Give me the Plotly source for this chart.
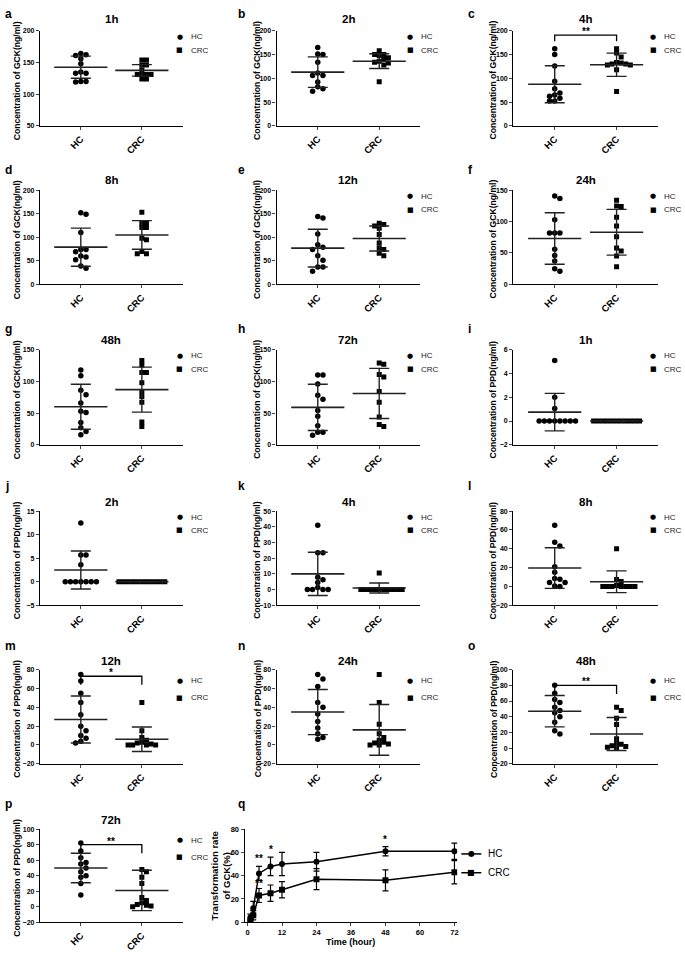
import numpy as np
import plotly.graph_objects as go

W, H = 685, 955
FONT = "Arial, Liberation Sans, sans-serif"

# ---------------- data ----------------
groups = ["HC", "CRC"]

# GCK concentration (ng/ml)
gck_1h_hc = [162, 161, 164, 156, 148, 133, 133, 135, 120, 119, 120]
gck_1h_crc = [154, 154, 146, 146, 138, 131, 131, 131, 131, 124, 124]
gck_2h_hc = [165, 150, 151, 134, 111, 106, 106, 92, 82, 73, 78]
gck_2h_crc = [158, 150, 150, 148, 143, 140, 136, 134, 132, 128, 93]
gck_4h_hc = [162, 150, 126, 94, 78, 69, 65, 62, 58, 52, 52]
gck_4h_crc = [162, 153, 145, 133, 132, 130, 130, 128, 128, 118, 72]
gck_8h_hc = [149, 152, 110, 74, 74, 69, 58, 60, 52, 39, 34]
gck_8h_crc = [153, 130, 130, 121, 121, 98, 95, 70, 65, 65]
gck_12h_hc = [141, 144, 107, 84, 74, 79, 61, 51, 37, 37, 28]
gck_12h_crc = [130, 124, 119, 127, 106, 77, 88, 74, 61, 66]
gck_24h_hc = [137, 141, 103, 82, 82, 82, 56, 46, 37, 21, 25]
gck_24h_crc = [134, 124, 125, 107, 93, 76, 58, 53, 45, 28]
gck_48h_hc = [118, 109, 86, 79, 66, 51, 53, 35, 27, 21, 16]
gck_48h_crc = [133, 126, 114, 114, 98, 76, 84, 67, 36, 29]
gck_72h_hc = [110, 110, 96, 78, 72, 54, 45, 30, 20, 20, 15]
gck_72h_crc = [129, 127, 107, 111, 84, 67, 44, 32, 29]

# PPD concentration (ng/ml)
ppd_1h_hc = [5.1, 2.0, 1.05, 0, 0, 0, 0, 0, 0, 0, 0]
ppd_1h_crc = [0] * 11
ppd_2h_hc = [12.5, 5.7, 5.7, 3.6, 0, 0, 0, 0, 0, 0, 0]
ppd_2h_crc = [0] * 11
ppd_4h_hc = [41, 23.5, 23.5, 7.8, 6.2, 4.6, 1.3, 0, 0, 0, 0]
ppd_4h_crc = [10.5, 0, 0, 0, 0, 0, 0, 0, 0, 0, 0]
ppd_8h_hc = [65, 47, 43, 21, 15, 8.4, 7.7, 4.2, 4.2, 0, 0.5]
ppd_8h_crc = [40, 7.5, 5.3, 1, 0, 0, 0, 0, 0, 0, 0]
ppd_12h_hc = [75, 68, 55, 45, 32, 20, 15, 10, 7, 4, 2]
ppd_12h_crc = [45, 15, 8, 5, 3, 2, 1, 0, 0, 0, 0]
ppd_24h_hc = [75, 70, 62, 45, 40, 33, 25, 18, 12, 8, 6]
ppd_24h_crc = [75, 45, 22, 12, 8, 5, 3, 2, 1, 0, 0]
ppd_48h_hc = [80, 70, 62, 58, 52, 48, 45, 40, 33, 22, 18]
ppd_48h_crc = [52, 48, 38, 30, 12, 6, 5, 3, 2, 1, 0]
ppd_72h_hc = [82, 72, 63, 57, 55, 50, 45, 40, 38, 30, 15]
ppd_72h_crc = [48, 45, 38, 30, 12, 8, 5, 3, 2, 1, 0]

# mean and SD lines as drawn in each panel, [HC, CRC]
means = {
    "a": [142.5, 137.5], "b": [113, 136], "c": [87.5, 128.5], "d": [79, 105],
    "e": [77, 97.5], "f": [73, 83], "g": [60, 87], "h": [59, 81],
    "i": [0.75, 0], "j": [2.5, 0], "k": [10, 1], "l": [19.6, 5],
    "m": [27, 6], "n": [35, 16], "o": [47, 18], "p": [50, 21],
}
sds = {
    "a": [17.5, 9], "b": [32, 15.5], "c": [39, 24.5], "d": [40.5, 30.5],
    "e": [40, 26.5], "f": [41, 36.5], "g": [35.5, 35.5], "h": [36.5, 39.5],
    "i": [1.58, 0], "j": [4.05, 0], "k": [13.8, 3.2], "l": [21.6, 11.6],
    "m": [25, 13], "n": [24, 27], "o": [20, 21], "p": [19, 26],
}

# transformation rate of GCK (%)
hours = [1, 2, 4, 8, 12, 24, 48, 72]
rate_hc = [4, 12, 42, 48, 50, 52, 61, 61]
rate_hc_sd = [3, 6, 6, 8, 10, 8, 4, 7]
rate_crc = [1, 6, 23, 25, 28, 37, 36, 43]
rate_crc_sd = [1, 4, 6, 7, 7, 9, 9, 10]

# ---------------- panel layout ----------------
cols = [(40, 183), (277, 421), (514, 659)]
rows = [(27, 123), (188, 283), (349, 445), (512, 607), (672, 767), (833, 927)]
ytitle_x = [17, 258, 494]
title_y = [15, 178, 339, 503, 663, 824]
letter_x = [3, 236, 467]
letter_y = [10, 168, 328, 487, 648, 808]
legend_x = [180, 411, 654]

panels = [
    ("a", "1h", "GCK", gck_1h_hc, gck_1h_crc, (50, 200, 50), True, None),
    ("b", "2h", "GCK", gck_2h_hc, gck_2h_crc, (0, 200, 50), True, None),
    ("c", "4h", "GCK", gck_4h_hc, gck_4h_crc, (0, 200, 50), True, ("**", 191, 178)),
    ("d", "8h", "GCK", gck_8h_hc, gck_8h_crc, (0, 200, 50), False, None),
    ("e", "12h", "GCK", gck_12h_hc, gck_12h_crc, (0, 200, 50), True, None),
    ("f", "24h", "GCK", gck_24h_hc, gck_24h_crc, (0, 150, 50), True, None),
    ("g", "48h", "GCK", gck_48h_hc, gck_48h_crc, (0, 150, 50), True, None),
    ("h", "72h", "GCK", gck_72h_hc, gck_72h_crc, (0, 150, 50), True, None),
    ("i", "1h", "PPD", ppd_1h_hc, ppd_1h_crc, (-2, 6, 2), True, None),
    ("j", "2h", "PPD", ppd_2h_hc, ppd_2h_crc, (-5, 15, 5), True, None),
    ("k", "4h", "PPD", ppd_4h_hc, ppd_4h_crc, (-10, 50, 10), True, None),
    ("l", "8h", "PPD", ppd_8h_hc, ppd_8h_crc, (-20, 80, 20), True, None),
    ("m", "12h", "PPD", ppd_12h_hc, ppd_12h_crc, (-20, 80, 20), True, ("*", 73, 64)),
    ("n", "24h", "PPD", ppd_24h_hc, ppd_24h_crc, (-20, 80, 20), True, None),
    ("o", "48h", "PPD", ppd_48h_hc, ppd_48h_crc, (-20, 100, 20), True, ("**", 80, 69)),
    ("p", "72h", "PPD", ppd_72h_hc, ppd_72h_crc, (-20, 100, 20), True, ("**", 80, 69)),
]

XR = [-0.67, 1.67]


def px(x):
    return x / W


def py(y):
    return 1 - y / H


def bold(t):
    return "<b>" + t + "</b>"


def swarm(vals, ypx, xpx, d):
    # simple deterministic beeswarm, in pixel space
    order = sorted(range(len(vals)), key=lambda i: -vals[i])
    placed, offs = [], [0.0] * len(vals)
    cands = [0.0]
    for n in range(1, 20):
        cands += [n * d, -n * d]
    for i in order:
        yv = vals[i] * ypx
        for c in cands:
            if all((c - a) ** 2 + (yv - b) ** 2 >= 0.85 * d * d for a, b in placed):
                break
        placed.append((c, yv))
        offs[i] = c / xpx
    return offs


def note(text, x, y, size, **kw):
    d = dict(text=text, xref="paper", yref="paper", x=px(x), y=py(y),
             xanchor="center", yanchor="middle", showarrow=False,
             font=dict(size=size, family=kw.pop("family", FONT), color=kw.pop("color", "black")))
    d.update(kw)
    return d


fig = go.Figure()
layout = {}
annotations = []
shapes = []

for k, (let, ttl, kind, hc, crc, yr, legend, sig) in enumerate(panels):
    r, c = divmod(k, 3)
    n = k + 1
    xa, ya = ("x%d" % n if n > 1 else "x"), ("y%d" % n if n > 1 else "y")
    x0, x1 = cols[c]
    y0, y1 = rows[r]
    ymin, ymax, dt = yr
    ypx = (y1 - y0) / (ymax - ymin)
    xpx = (x1 - x0) / (XR[1] - XR[0])

    for gi, (vals, sym, d) in enumerate([(hc, "circle", 5.2), (crc, "square", 4.6)]):
        offs = swarm(vals, ypx, xpx, d)
        fig.add_trace(go.Scatter(
            x=[gi + o for o in offs], y=vals, mode="markers", xaxis=xa, yaxis=ya,
            marker=dict(symbol=sym, size=5.5 if gi == 0 else 5, color="black"),
            showlegend=False, name=groups[gi], hoverinfo="y"))
        fig.add_trace(go.Scatter(
            x=[gi], y=[means[let][gi]], mode="markers", xaxis=xa, yaxis=ya,
            marker=dict(symbol="line-ew", size=38, line=dict(width=1.6, color="#222")),
            error_y=dict(type="data", array=[sds[let][gi]], visible=True,
                         width=10, thickness=1.4, color="#222"),
            showlegend=False, hoverinfo="skip"))

    layout["xaxis%d" % n] = dict(
        domain=[px(x0), px(x1)], anchor=ya, range=XR, tickvals=[0, 1],
        ticktext=[bold(g) for g in groups], tickangle=-45, ticks="outside", ticklen=3,
        showline=True, linecolor="black", linewidth=1.2, showgrid=False, zeroline=False,
        tickfont=dict(size=9.5, family=FONT, color="black"), fixedrange=True)
    layout["yaxis%d" % n] = dict(
        domain=[py(y1), py(y0)], anchor=xa, range=[ymin, ymax], dtick=dt, tick0=ymin,
        ticks="outside", ticklen=3, showline=True, linecolor="black", linewidth=1.2,
        showgrid=False, zeroline=False,
        tickfont=dict(size=7, family=FONT, color="black", weight="bold"))

    annotations.append(note(bold(let), letter_x[c], letter_y[r], 12, xanchor="left"))
    annotations.append(note(bold(ttl), (x0 + x1) / 2, title_y[r], 11.5))
    annotations.append(note(bold("Concentration of %s(ng/ml)" % kind),
                            ytitle_x[c], (y0 + y1) / 2 + 2, 8.6, textangle=-90))
    if legend:
        lx = legend_x[c]
        top, gap = (6, 13.5) if r < 4 else (11, 17.5)
        for gi, ch in enumerate(["●", "■"]):
            ly = y0 + top + gi * gap
            annotations.append(note(ch, lx, ly, 7, family="DejaVu Sans"))
            annotations.append(note(groups[gi], lx + 9, ly, 8, xanchor="left", color="#222"))
    if sig:
        star, ytop, yleg = sig
        shapes.append(dict(
            type="path", xref=xa, yref=ya,
            path="M 0 %g L 0 %g L 1 %g L 1 %g" % (yleg, ytop, ytop, yleg),
            line=dict(color="black", width=1.3)))
        annotations.append(dict(
            text=bold(star), xref=xa, yref=ya, x=0.5, y=ytop, yshift=-4,
            xanchor="center", yanchor="bottom", showarrow=False,
            font=dict(size=10, family=FONT, color="black")))

# ---------------- panel q ----------------
qx0, qx1, qy0, qy1 = 245, 458, 833, 927
for vals, err, sym, name in [(rate_hc, rate_hc_sd, "circle", "HC"),
                             (rate_crc, rate_crc_sd, "square", "CRC")]:
    fig.add_trace(go.Scatter(
        x=hours, y=vals, mode="lines+markers", xaxis="x17", yaxis="y17", name=name,
        line=dict(color="black", width=1.5), marker=dict(symbol=sym, size=6, color="black"),
        error_y=dict(type="data", array=err, visible=True, width=3, thickness=1.2, color="black"),
        showlegend=False))

layout["xaxis17"] = dict(
    domain=[px(qx0), px(qx1)], anchor="y17", range=[-1, 73], tickvals=list(range(0, 73, 12)),
    ticks="outside", ticklen=3, showline=True, linecolor="black", linewidth=1.2,
    showgrid=False, zeroline=False,
    tickfont=dict(size=7.5, family=FONT, color="black", weight="bold"))
layout["yaxis17"] = dict(
    domain=[py(qy1), py(qy0)], anchor="x17", range=[0, 80], dtick=20,
    ticks="outside", ticklen=3, showline=True, linecolor="black", linewidth=1.2,
    showgrid=False, zeroline=False,
    tickfont=dict(size=7.5, family=FONT, color="black", weight="bold"))

annotations.append(note(bold("q"), 236, 808, 12, xanchor="left"))
annotations.append(note(bold("Time (hour)"), (qx0 + qx1) / 2, 947, 9))
annotations.append(note(bold("Transformation rate<br>of GCK(%)"), 221, 880, 9.5, textangle=-90))
for gi, (ch, name) in enumerate([("●", "HC"), ("■", "CRC")]):
    ly = 858 + gi * 19
    shapes.append(dict(type="line", xref="paper", yref="paper",
                       x0=px(462), x1=px(482), y0=py(ly), y1=py(ly),
                       line=dict(color="black", width=1.5)))
    annotations.append(note(ch, 472, ly, 8, family="DejaVu Sans"))
    annotations.append(note(name, 487, ly, 10, xanchor="left"))
for t, yv, s in [(4, 48, "**"), (8, 56, "*"), (48, 65, "*"), (4, 27, "**")]:
    annotations.append(dict(text=bold(s), xref="x17", yref="y17", x=t, y=yv,
                            yanchor="bottom", showarrow=False,
                            font=dict(size=10, family=FONT, color="black")))

fig.update_layout(
    width=W, height=H, margin=dict(l=0, r=0, t=0, b=0),
    paper_bgcolor="white", plot_bgcolor="white",
    annotations=annotations, shapes=shapes, **layout)

fig.write_html("out.html", config={"displayModeBar": False},
               post_script="document.body.style.margin='0';")
